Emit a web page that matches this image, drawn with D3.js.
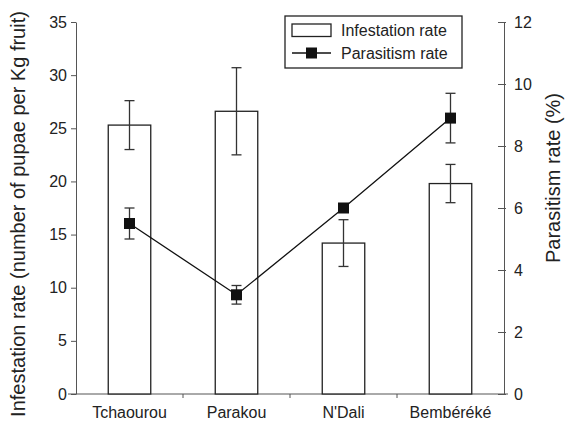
<!DOCTYPE html>
<html>
<head>
<meta charset="utf-8">
<script src="https://cdn.jsdelivr.net/npm/d3@7"></script>
<style>
  body { margin: 0; background: #fff; }
  text { font-family: "Liberation Sans", Arial, sans-serif; fill: #222; }
</style>
</head>
<body>
<div class="chart"></div>
<script>
var sites = ["Tchaourou", "Parakou", "N'Dali", "Bembéréké"];
var infestation = [25.3, 26.6, 14.2, 19.8];
var infestationErr = [2.3, 4.1, 2.2, 1.8];
var parasitism = [5.5, 3.2, 6.0, 8.9];
var parasitismErr = [0.5, 0.3, 0.1, 0.8];
var leftTicks = [0, 5, 10, 15, 20, 25, 30, 35];
var rightTicks = [0, 2, 4, 6, 8, 10, 12];

var svgWidth = 565;
var svgHeight = 426;

var margin = {
    top: 22,
    right: 61,
    bottom: 32,
    left: 76
};

var width = svgWidth - margin.left - margin.right;
var height = svgHeight - margin.top - margin.bottom;

var svg = d3.select(".chart")
    .append("svg")
    .attr("width", svgWidth)
    .attr("height", svgHeight);

var chartGroup = svg.append("g")
    .attr("transform", `translate(${margin.left}, ${margin.top})`);

var yLeft = d3.scaleLinear().domain([0, 35]).range([height, 0]);
var yRight = d3.scaleLinear().domain([0, 12]).range([height, 0]);

var axisColor = "#555";
var ink = "#222";

// left axis
var leftAxis = chartGroup.append("g")
    .call(d3.axisLeft(yLeft).tickValues(leftTicks).tickSize(5).tickPadding(4).tickSizeOuter(0));

// right axis, ticks cross the line
var rightAxis = chartGroup.append("g")
    .attr("transform", `translate(${width}, 0)`)
    .call(d3.axisRight(yRight).tickValues(rightTicks).tickSize(2).tickPadding(8).tickSizeOuter(0));
rightAxis.selectAll(".tick line").attr("x1", -6);

// bottom axis: ticks at the band boundaries
var boundaries = d3.range(0, sites.length + 1).map(i => i * width / sites.length);
var xAxis = chartGroup.append("g")
    .attr("transform", `translate(0, ${height})`);
xAxis.append("line")
    .attr("x1", -8).attr("x2", width + 4)
    .attr("stroke", axisColor);
xAxis.selectAll(".xtick")
    .data(boundaries.slice(1, sites.length))
    .enter()
    .append("line")
    .attr("x1", d => d).attr("x2", d => d)
    .attr("y1", 0).attr("y2", 4)
    .attr("stroke", axisColor);
var pos = d => boundaries[sites.indexOf(d)] + width / sites.length / 2;
xAxis.selectAll(".xlabel")
    .data(sites)
    .enter()
    .append("text")
    .attr("x", d => pos(d))
    .attr("y", 24)
    .attr("text-anchor", "middle")
    .style("font-size", "16px")
    .text(d => d);

[leftAxis, rightAxis].forEach(function(ax) {
    ax.select(".domain").attr("stroke", axisColor);
    ax.selectAll(".tick line").attr("stroke", axisColor);
    ax.selectAll(".tick text")
        .style("font-size", "16px")
        .style("font-family", "'Liberation Sans', Arial, sans-serif")
        .attr("fill", ink);
});

var barW = 42.5;

// bars
chartGroup.selectAll(".bar")
    .data(sites)
    .enter()
    .append("rect")
    .attr("x", d => pos(d) - barW / 2)
    .attr("y", (d, i) => yLeft(infestation[i]))
    .attr("width", barW)
    .attr("height", (d, i) => height - yLeft(infestation[i]))
    .attr("fill", "#fff")
    .attr("stroke", ink)
    .attr("stroke-width", 1.3);

function errorBars(cls, vals, errs, scale) {
    var g = chartGroup.selectAll("." + cls)
        .data(sites)
        .enter()
        .append("g")
        .attr("stroke", "#333")
        .attr("stroke-width", 1.3);
    g.append("line")
        .attr("x1", d => pos(d)).attr("x2", d => pos(d))
        .attr("y1", (d, i) => scale(vals[i] + errs[i]))
        .attr("y2", (d, i) => scale(vals[i] - errs[i]));
    g.append("line")
        .attr("x1", d => pos(d) - 5).attr("x2", d => pos(d) + 5)
        .attr("y1", (d, i) => scale(vals[i] + errs[i]))
        .attr("y2", (d, i) => scale(vals[i] + errs[i]));
    g.append("line")
        .attr("x1", d => pos(d) - 5).attr("x2", d => pos(d) + 5)
        .attr("y1", (d, i) => scale(vals[i] - errs[i]))
        .attr("y2", (d, i) => scale(vals[i] - errs[i]));
}

errorBars("ierr", infestation, infestationErr, yLeft);
errorBars("perr", parasitism, parasitismErr, yRight);

// parasitism line
var line = d3.line()
    .x(d => pos(d))
    .y((d, i) => yRight(parasitism[i]));

chartGroup.append("path")
    .datum(sites)
    .attr("d", line)
    .attr("fill", "none")
    .attr("stroke", "#111")
    .attr("stroke-width", 1.3);

var mk = 11;
chartGroup.selectAll(".marker")
    .data(sites)
    .enter()
    .append("rect")
    .attr("x", d => pos(d) - mk / 2)
    .attr("y", (d, i) => yRight(parasitism[i]) - mk / 2)
    .attr("width", mk)
    .attr("height", mk)
    .attr("fill", "#111");

// axis titles
svg.append("text")
    .attr("transform", "translate(25, 214) rotate(-90)")
    .attr("text-anchor", "middle")
    .style("font-size", "20px")
    .text("Infestation rate (number of pupae per Kg fruit)");

svg.append("text")
    .attr("transform", "translate(560, 178) rotate(-90)")
    .attr("text-anchor", "middle")
    .style("font-size", "20px")
    .text("Parasitism rate (%)");

// legend
var legend = svg.append("g")
    .attr("transform", "translate(285, 16)");
legend.append("rect")
    .attr("width", 177).attr("height", 52)
    .attr("fill", "#fff")
    .attr("stroke", ink)
    .attr("stroke-width", 1.3);
legend.append("rect")
    .attr("x", 7).attr("y", 8)
    .attr("width", 39).attr("height", 12.5)
    .attr("fill", "#fff")
    .attr("stroke", ink)
    .attr("stroke-width", 1.3);
legend.append("line")
    .attr("x1", 7).attr("x2", 46)
    .attr("y1", 37).attr("y2", 37)
    .attr("stroke", "#111")
    .attr("stroke-width", 1.3);
legend.append("rect")
    .attr("x", 26.5 - 5.5).attr("y", 37 - 5.5)
    .attr("width", 11).attr("height", 11)
    .attr("fill", "#111");
legend.append("text")
    .attr("x", 56).attr("y", 20)
    .style("font-size", "16px")
    .text("Infestation rate");
legend.append("text")
    .attr("x", 56).attr("y", 43)
    .style("font-size", "16px")
    .text("Parasitism rate");
</script>
</body>
</html>
